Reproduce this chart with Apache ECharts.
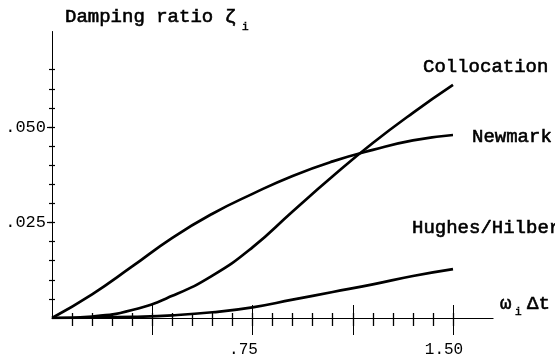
<!DOCTYPE html>
<html><head><meta charset="utf-8">
<script src="https://cdn.jsdelivr.net/npm/echarts@6/dist/echarts.min.js"></script>
<style>html,body{margin:0;padding:0;background:#fff}#c{width:555px;height:360px}</style>
</head><body><div id="c"></div>
<script>
// ---- data ----
const xValues = [0, 0.15, 0.3, 0.45, 0.6, 0.75, 0.9, 1.05, 1.2, 1.35, 1.5];
const collocation = [0, 0.0004, 0.0021, 0.0058, 0.0111, 0.0185, 0.0279, 0.0371, 0.0458, 0.0537, 0.0610];
const newmark = [0, 0.0062, 0.0135, 0.0210, 0.0273, 0.0325, 0.0372, 0.0410, 0.0440, 0.0465, 0.0479];
const hughesHilber = [0, 0.0001, 0.0003, 0.0007, 0.0015, 0.0028, 0.0048, 0.0068, 0.0088, 0.0110, 0.0128];
const xLabelValues = [0.75, 1.5];
const xTickLabels = ['.75', '1.50'];
const yLabelValues = [0.025, 0.05];
const yTickLabels = ['.025', '.050'];
const seriesNames = ['Collocation', 'Newmark', 'Hughes/Hilber'];

// ---- layout ----
const W = 555, H = 360, X0 = 52, Y0 = 318, XPX = 401 / 1.5, YPX = 95.5 / 0.025;
const XMAX = 1.65, YMAX = 0.075;
const FONT = 'Liberation Mono';
const INK = '#000';

const grids = [], xAxes = [], yAxes = [];
function addGrid(x1, x2, y1, y2, xa, ya) {
  const gi = grids.length;
  grids.push({left: X0 + x1 * XPX, right: W - (X0 + x2 * XPX), top: Y0 - y2 * YPX, bottom: H - (Y0 - y1 * YPX)});
  xAxes.push(Object.assign({type: 'value', gridIndex: gi, min: x1, max: x2, splitLine: {show: false}}, xa));
  yAxes.push(Object.assign({type: 'value', gridIndex: gi, min: y1, max: y2, splitLine: {show: false}}, ya));
  return gi;
}
const noLine = {show: false, onZero: false};
const tick = (len, inside, w) => ({show: true, inside: inside, length: len, lineStyle: {color: INK, width: w || 1.2}});
function labelFor(vals, txts) {
  return v => { const i = vals.findIndex(t => Math.abs(t - v) < 1e-9); return i < 0 ? '' : txts[i]; };
}

// main grid with axis lines
addGrid(0, XMAX, 0, YMAX,
  {axisLine: {show: true, onZero: false, lineStyle: {color: INK, width: 1}}, axisTick: {show: false}, axisLabel: {show: false}},
  {axisLine: {show: true, onZero: false, lineStyle: {color: INK, width: 1}}, axisTick: {show: false}, axisLabel: {show: false}});
// x minor ticks (crossing)
addGrid(0.075, 1.5, 0, YMAX, {interval: 0.075, axisLine: noLine, axisTick: tick(8, false, 1.3), axisLabel: {show: false}}, {show: false});
addGrid(0.075, 1.5, 0, YMAX, {interval: 0.075, axisLine: noLine, axisTick: tick(5, true, 1.3), axisLabel: {show: false}}, {show: false});
// x long ticks + labels
addGrid(0.375, 1.5, 0, YMAX, {interval: 0.375, axisLine: noLine, axisTick: tick(17, false, 1),
  axisLabel: {show: true, interval: 0, showMinLabel: true, showMaxLabel: true, margin: 24, fontFamily: FONT, fontSize: 16, color: INK,
    padding: [0, 18, 0, 0], formatter: labelFor(xLabelValues, xTickLabels)}}, {show: false});
addGrid(0.375, 1.5, 0, YMAX, {interval: 0.375, axisLine: noLine, axisTick: tick(13, true, 1), axisLabel: {show: false}}, {show: false});
// y minor ticks (crossing)
addGrid(0, XMAX, 0.005, 0.065, {show: false}, {interval: 0.005, axisLine: noLine, axisTick: tick(3, false, 1.2), axisLabel: {show: false}});
addGrid(0, XMAX, 0.005, 0.065, {show: false}, {interval: 0.005, axisLine: noLine, axisTick: tick(3, true, 1.2), axisLabel: {show: false}});
// y labelled ticks
addGrid(0, XMAX, 0.025, 0.05, {show: false}, {interval: 0.025, axisLine: noLine, axisTick: tick(5, false, 1.2),
  axisLabel: {show: true, interval: 0, showMinLabel: true, showMaxLabel: true, margin: 6, fontFamily: FONT, fontSize: 17, color: INK,
    formatter: labelFor(yLabelValues, yTickLabels)}});

const curves = [collocation, newmark, hughesHilber];
const series = curves.map((vals, k) => ({
  name: seriesNames[k], type: 'line', xAxisIndex: 0, yAxisIndex: 0, smooth: 0.5, symbol: 'none', silent: true,
  lineStyle: {color: INK, width: 2.7}, data: xValues.map((x, i) => [x, vals[i]])
}));

const txt = (s, x, y, size, extra) => Object.assign({type: 'text', x: x, y: y, silent: true,
  style: {text: s, fontFamily: FONT, fontSize: size || 19, fontWeight: 'normal', fill: INK, stroke: INK, lineWidth: 0.6,
    align: 'left', verticalAlign: 'middle'}}, extra || {});

const chart = echarts.init(document.getElementById('c'), null, {renderer: 'canvas'});
chart.setOption({
  backgroundColor: '#fff',
  animation: false,
  grid: grids, xAxis: xAxes, yAxis: yAxes, series: series,
  graphic: [
    txt('Damping ratio ζ', 65, 17),
    txt('i', 242, 27, 11),
    txt(seriesNames[0], 423, 67),
    txt(seriesNames[1], 472, 137),
    txt(seriesNames[2], 412, 228),
    txt('ω', 500, 304),
    txt('i', 515, 312, 11),
    txt('Δt', 527, 304)
  ]
});
</script></body></html>
